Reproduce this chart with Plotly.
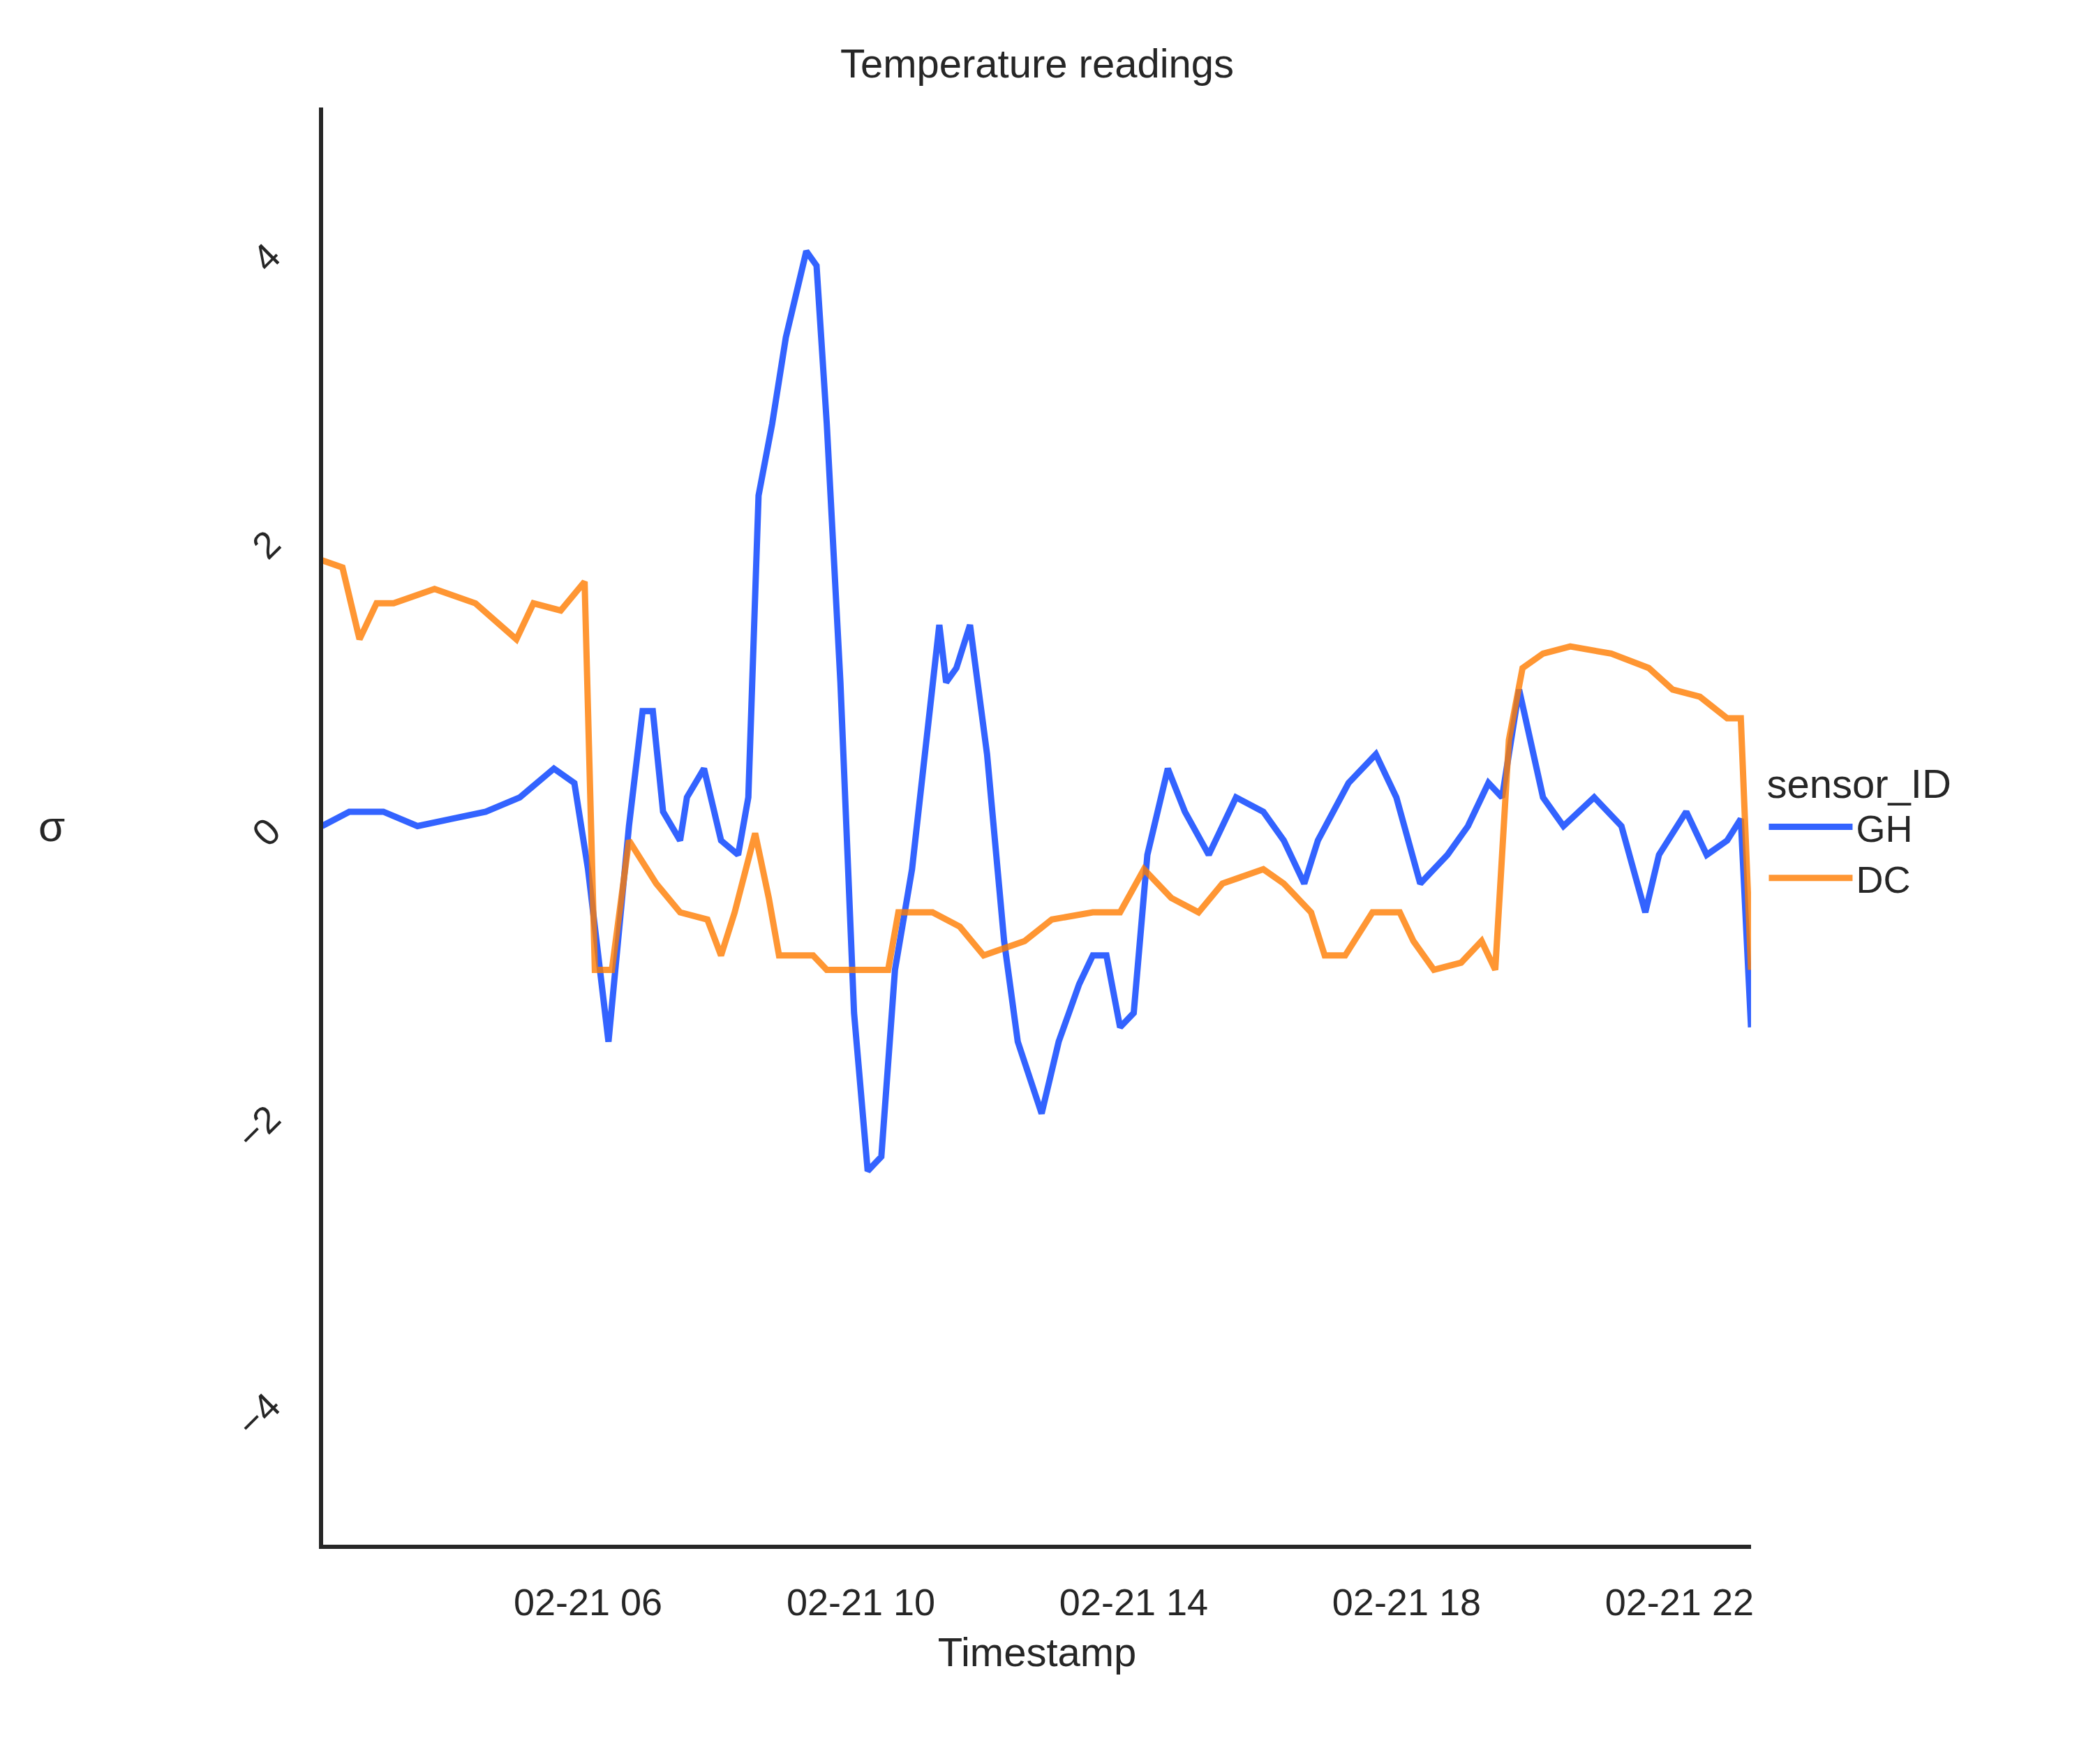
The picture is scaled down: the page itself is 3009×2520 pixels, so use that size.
import datetime as dt
import plotly.graph_objects as go

# hour of day (02-21) and sigma values
gh_hours = [2.1, 2.5, 3.0, 3.5, 4.0, 4.5, 5.0, 5.5, 5.8, 6.0, 6.3, 6.6, 6.8, 6.95, 7.1, 7.35, 7.45,
            7.7, 7.95, 8.2, 8.35, 8.5, 8.7, 8.9, 9.2, 9.35, 9.5, 9.7, 9.9, 10.1, 10.3, 10.5, 10.75,
            10.95, 11.15, 11.25, 11.4, 11.6, 11.85, 12.1, 12.3, 12.65, 12.9, 13.2, 13.4, 13.6, 13.8,
            14.0, 14.2, 14.5, 14.75, 15.1, 15.5, 15.9, 16.2, 16.5, 16.7, 17.15, 17.55, 17.85, 18.2,
            18.6, 18.9, 19.2, 19.4, 19.65, 20.0, 20.3, 20.75, 21.15, 21.5, 21.7, 22.1, 22.4, 22.7,
            22.9, 23.05]
gh_vals = [0.0, 0.1, 0.1, 0.0, 0.05, 0.1, 0.2, 0.4, 0.3, -0.3, -1.5, 0.0, 0.8, 0.8, 0.1, -0.1, 0.2,
           0.4, -0.1, -0.2, 0.2, 2.3, 2.8, 3.4, 4.0, 3.9, 2.8, 1.0, -1.3, -2.4, -2.3, -1.0, -0.3,
           0.6, 1.4, 1.0, 1.1, 1.4, 0.5, -0.8, -1.5, -2.0, -1.5, -1.1, -0.9, -0.9, -1.4,
           -1.3, -0.2, 0.4, 0.1, -0.2, 0.2, 0.1, -0.1, -0.4, -0.1, 0.3, 0.5, 0.2, -0.4,
           -0.2, 0.0, 0.3, 0.2, 0.95, 0.2, 0.0, 0.2, 0.0, -0.6, -0.2, 0.1, -0.2, -0.1,
           0.05, -1.4]

dc_hours = [2.1, 2.4, 2.65, 2.9, 3.15, 3.75, 4.35, 4.95, 5.2, 5.6, 5.95, 6.1, 6.35, 6.6, 7.0, 7.35,
            7.75, 7.95, 8.15, 8.45, 8.65, 8.8, 9.3, 9.5, 10.4, 10.55, 11.05, 11.45, 11.8, 12.4,
            12.8, 13.4, 13.8, 14.15, 14.55, 14.95, 15.3, 15.9, 16.2, 16.6, 16.8, 17.1, 17.5, 17.9,
            18.1, 18.4, 18.8, 19.1, 19.3, 19.5, 19.7, 20.0, 20.4, 21.0, 21.55, 21.9, 22.3, 22.7,
            22.9, 23.05]
dc_vals = [1.85, 1.8, 1.3, 1.55, 1.55, 1.65, 1.55, 1.3, 1.55, 1.5, 1.7, -1.0, -1.0, -0.1, -0.4, -0.6,
           -0.65, -0.9, -0.6, -0.05, -0.5, -0.9, -0.9, -1.0, -1.0, -0.6, -0.6, -0.7, -0.9, -0.8,
           -0.65, -0.6, -0.6, -0.3, -0.5, -0.6, -0.4, -0.3, -0.4, -0.6, -0.9, -0.9, -0.6, -0.6,
           -0.8, -1.0, -0.95, -0.8, -1.0, 0.6, 1.1, 1.2, 1.25, 1.2, 1.1, 0.95, 0.9, 0.75,
           0.75, -1.0]


def to_time(hours):
    base = dt.datetime(2021, 2, 21)
    return [base + dt.timedelta(hours=h) for h in hours]


font = "Liberation Sans, Arial, sans-serif"
fig = go.Figure()
fig.add_trace(go.Scatter(x=to_time(gh_hours), y=gh_vals, mode="lines", name="GH",
                         line=dict(color="rgba(0,60,255,0.8)", width=9)))
fig.add_trace(go.Scatter(x=to_time(dc_hours), y=dc_vals, mode="lines", name="DC",
                         line=dict(color="rgba(255,124,0,0.8)", width=9)))

fig.update_layout(
    width=3009, height=2520,
    paper_bgcolor="white", plot_bgcolor="white",
    margin=dict(l=455, r=508, t=146, b=315),
    font=dict(family=font, size=54, color="#262626"),
    title=dict(text="Temperature readings", x=0.5, xref="paper", y=0.967, yanchor="middle",
               font=dict(size=58)),
    xaxis=dict(
        range=[dt.datetime(2021, 2, 21, 2, 7), dt.datetime(2021, 2, 21, 23, 3)],
        tickvals=to_time([6, 10, 14, 18, 22]), tickformat="%m-%d %H",
        showgrid=False, zeroline=False, showline=True, linecolor="#262626", linewidth=6,
        ticks="", ticklabelstandoff=30,
        title=dict(text="Timestamp", font=dict(size=58), standoff=25),
        tickfont=dict(size=54),
    ),
    yaxis=dict(
        range=[-5, 5], tickvals=[-4, -2, 0, 2, 4], tickangle=-45,
        showgrid=False, zeroline=False, showline=True, linecolor="#262626", linewidth=6,
        ticks="", ticklabelstandoff=60, tickfont=dict(size=54),
    ),
    legend=dict(x=1.01, y=0.5, xanchor="left", yanchor="middle",
                title=dict(text="sensor_ID", font=dict(size=58)),
                font=dict(size=54), itemwidth=120, tracegroupgap=20),
    annotations=[dict(text="σ", xref="paper", yref="paper", x=-0.19, y=0.5,
                      showarrow=False, font=dict(size=62), xanchor="center")],
)

fig.write_html("out.html")
